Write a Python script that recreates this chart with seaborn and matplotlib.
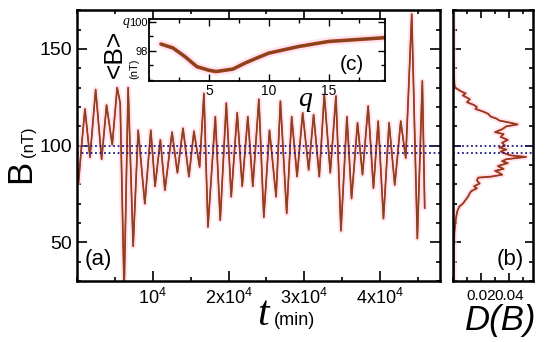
import numpy as np
import pandas as pd
import matplotlib
matplotlib.use("Agg")
import matplotlib.pyplot as plt
import seaborn as sns
from matplotlib.ticker import MultipleLocator, FixedLocator

sns.set_style("ticks")
plt.rcParams['font.family'] = ['Liberation Sans', 'DejaVu Sans']
plt.rcParams['mathtext.fontset'] = 'custom'
plt.rcParams['mathtext.rm'] = 'Liberation Sans'
plt.rcParams['mathtext.it'] = 'Liberation Sans:italic'
plt.rcParams['axes.edgecolor'] = 'black'
plt.rcParams['text.color'] = 'black'
plt.rcParams['axes.labelcolor'] = 'black'
plt.rcParams['xtick.color'] = 'black'
plt.rcParams['ytick.color'] = 'black'

# ---- data ----
t_min = [0, 200, 600, 1050, 1710, 2460, 3250, 3900, 4650, 5300, 5700, 6220, 6750, 7410,
         8070, 8950, 9740, 10300, 11000, 11600, 12540, 13250, 13990, 14770, 15430, 16180,
         16750, 17280, 18250, 18900, 19700, 20350, 21140, 21800, 22540, 23200, 24000,
         24650, 25400, 26270, 26840, 27670, 28330, 29040, 29780, 30570, 31220, 31970,
         32630, 33420, 34170, 34830, 35620, 36230, 37020, 37670, 38420, 39120, 39740,
         40440, 41180, 41930, 42720, 43380, 44170, 44910, 45570, 45880]
B_nT = [92, 81, 100, 119, 94, 129, 93, 121, 100.5, 130, 122, 25, 130, 48,
        108, 70, 108, 79, 103, 77, 107, 86, 109, 84, 107.5, 89,
        127, 58, 115, 61.5, 122, 73.6, 117, 79, 115, 79, 124,
        63, 108, 73.6, 123, 65, 115, 84, 117, 87.5, 116, 84,
        126.5, 86, 125.7, 56, 115, 72.7, 111.8, 85, 120.5, 78, 112.7,
        62.3, 111.8, 79.7, 112.7, 93.6, 168, 52, 133.5, 67.7]

hist_B = [170, 140, 132, 130, 128, 127, 126, 124, 122.5, 121, 120, 119, 117.5, 116.5, 115,
          114, 113, 112, 111, 110, 108.5, 107, 106, 104.5, 103, 101.5, 100, 99, 98, 97,
          96, 95, 94.2, 93, 92, 91, 89.5, 88, 87, 86, 85, 84, 83.5, 82, 80.5, 79, 78,
          76.5, 75.5, 74, 72, 70, 68.5, 66, 62, 55, 45, 30]
hist_D = [0.0, 0.0005, 0.001, 0.0015, 0.006, 0.009, 0.007, 0.012, 0.010, 0.015, 0.017,
          0.016, 0.022, 0.025, 0.027, 0.031, 0.033, 0.040, 0.046, 0.038, 0.035, 0.030,
          0.036, 0.034, 0.039, 0.035, 0.037, 0.033, 0.038, 0.034, 0.037, 0.041, 0.052,
          0.038, 0.035, 0.039, 0.032, 0.036, 0.030, 0.033, 0.035, 0.027, 0.018, 0.017,
          0.019, 0.015, 0.017, 0.013, 0.012, 0.011, 0.009, 0.007, 0.0045, 0.003, 0.002,
          0.001, 0.0007, 0.0005]

q_vals = [1, 2, 3, 4, 5, 5.6, 7, 8, 9, 10, 12.5, 15, 20]
Bq_vals = [98.47, 98.2, 97.6, 96.9, 96.65, 96.56, 96.73, 97.14, 97.5, 97.84, 98.3, 98.65, 98.93]

ref_levels = [100, 96.2]

series = pd.DataFrame({"t": t_min, "B": B_nT})
hist = pd.DataFrame({"D": hist_D, "B": hist_B})
inset = pd.DataFrame({"q": q_vals, "Bq": Bq_vals})

RED = "#e02020"
BROWN = "#7a4a1e"
PINK = "#ffd2e4"
NAVY = "#1c1c8a"

fig = plt.figure(figsize=(5.5, 3.42), dpi=100)
ax = fig.add_axes([0.140, 0.178, 0.660, 0.792])
axr = fig.add_axes([0.8236, 0.178, 0.1455, 0.792])
axi = fig.add_axes([0.2709, 0.763, 0.429, 0.181])

# main series
sns.lineplot(data=series, x="t", y="B", ax=ax, color=PINK, lw=4, alpha=0.6)
sns.lineplot(data=series, x="t", y="B", ax=ax, color=RED, lw=1.2)
sns.lineplot(data=series, x="t", y="B", ax=ax, color=BROWN, lw=0.9)
for lv in ref_levels:
    ax.axhline(lv, color=NAVY, ls=(0, (1, 1.5)), lw=1.3)
ax.set_xlim(0, 47900)
ax.set_ylim(30, 170)
ax.set_xlabel("")
ax.set_ylabel("")
ax.xaxis.set_major_locator(FixedLocator([10000, 20000, 30000, 40000]))
ax.set_xticklabels([r"$\mathrm{10^4}$", r"$\mathrm{2x10^4}$", r"$\mathrm{3x10^4}$", r"$\mathrm{4x10^4}$"])
ax.xaxis.set_minor_locator(MultipleLocator(5000))
ax.yaxis.set_major_locator(FixedLocator([50, 100, 150]))
ax.yaxis.set_minor_locator(MultipleLocator(10))
ax.tick_params(which="both", direction="in", top=True, right=True, labelsize=14, width=1.2)
ax.tick_params(which="major", length=7)
ax.tick_params(which="minor", length=3)
ax.tick_params(axis="x", labelsize=13, pad=5)
for s in ax.spines.values():
    s.set_linewidth(1.8)
ax.text(0.02, 0.04, "(a)", transform=ax.transAxes, fontsize=16, ha="left", va="bottom")

# right histogram panel
sns.lineplot(data=hist, x="D", y="B", ax=axr, sort=False, orient="y", color=PINK, lw=4, alpha=0.6)
sns.lineplot(data=hist, x="D", y="B", ax=axr, sort=False, orient="y", color=RED, lw=1.3)
sns.lineplot(data=hist, x="D", y="B", ax=axr, sort=False, orient="y", color=BROWN, lw=0.8)
for lv in ref_levels:
    axr.axhline(lv, color=NAVY, ls=(0, (1, 1.5)), lw=1.3)
axr.set_ylim(30, 170)
axr.set_xlim(0, 0.057)
axr.set_xlabel("")
axr.set_ylabel("")
axr.xaxis.set_major_locator(FixedLocator([0.02, 0.04]))
axr.set_xticklabels(["0.02", "0.04"])
axr.xaxis.set_minor_locator(MultipleLocator(0.01))
axr.yaxis.set_major_locator(FixedLocator([50, 100, 150]))
axr.yaxis.set_minor_locator(MultipleLocator(10))
axr.tick_params(which="both", direction="in", top=True, right=True, labelleft=False, labelsize=11, width=1.2)
axr.tick_params(which="major", length=6)
axr.tick_params(which="minor", length=3)
axr.tick_params(axis="x", pad=6)
for s in axr.spines.values():
    s.set_linewidth(1.8)
axr.text(0.55, 0.04, "(b)", transform=axr.transAxes, fontsize=16, ha="left", va="bottom")

# inset
axi.set_facecolor("white")
sns.lineplot(data=inset, x="q", y="Bq", ax=axi, color=PINK, lw=6, alpha=0.6)
sns.lineplot(data=inset, x="q", y="Bq", ax=axi, color="#b03a1a", lw=2.6)
sns.lineplot(data=inset, x="q", y="Bq", ax=axi, color=BROWN, lw=1.2)
axi.set_xlim(0, 19.7)
axi.set_ylim(95.9, 100.2)
axi.set_xlabel("")
axi.set_ylabel("")
axi.xaxis.set_major_locator(FixedLocator([5, 10, 15]))
axi.xaxis.set_minor_locator(MultipleLocator(2.5))
axi.yaxis.set_major_locator(FixedLocator([98, 100]))
axi.yaxis.set_minor_locator(MultipleLocator(1))
axi.tick_params(which="both", direction="in", top=True, right=True, labelsize=10, width=1.0, pad=2)
axi.tick_params(axis="y", labelsize=8, pad=1)
axi.tick_params(which="major", length=5)
axi.tick_params(which="minor", length=3)
for s in axi.spines.values():
    s.set_linewidth(1.3)
axi.text(0.86, 0.12, "(c)", transform=axi.transAxes, fontsize=15, ha="center", va="bottom")

# axis labels
fig.text(0.037, 0.50, "B", rotation=90, fontsize=25, ha="center", va="center")
fig.text(0.052, 0.585, "(nT)", rotation=90, fontsize=12, ha="center", va="center")
fig.text(0.478, 0.08, "t", fontsize=30, ha="center", va="center",
         family="Liberation Serif", style="italic")
fig.text(0.535, 0.062, "(min)", fontsize=13, ha="center", va="center")
fig.text(0.910, 0.062, "D(B)", fontsize=25, ha="center", va="center", style="italic")
fig.text(0.208, 0.842, "<B>", rotation=90, fontsize=19, ha="center", va="center")
fig.text(0.229, 0.936, "q", fontsize=10, ha="center", va="center",
         family="Liberation Serif", style="italic")
fig.text(0.245, 0.80, "(nT)", rotation=90, fontsize=8, ha="center", va="center")
fig.text(0.555, 0.71, "q", fontsize=20, ha="center", va="center",
         family="Liberation Serif", style="italic")

fig.savefig("out.png", dpi=100)
